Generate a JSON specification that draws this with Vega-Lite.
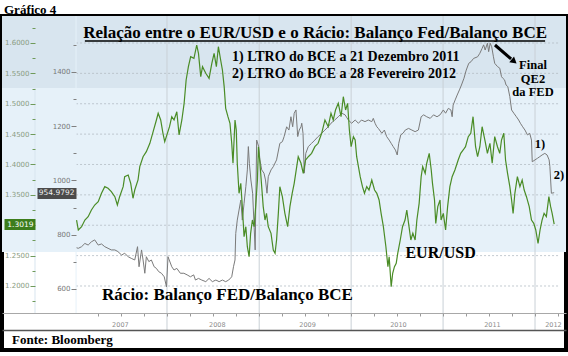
{
  "$schema": "https://vega.github.io/schema/vega-lite/v6.json",
  "width": 564,
  "height": 334,
  "autosize": {"type": "none"},
  "padding": {"left": 2, "top": 16, "right": 2, "bottom": 6},
  "background": "white",
  "config": {"view": {"stroke": "#000000", "strokeWidth": 4}},
  "title": {"text": "Gráfico 4", "anchor": "start", "frame": "group", "font": "Liberation Serif", "fontSize": 13, "fontWeight": "bold", "color": "#000000", "offset": 3, "dx": 2, "dy": 4},
  "datasets": {
    "eur": [
      {"date":"2007-01-07","eurusd":1.3086},{"date":"2007-01-14","eurusd":1.2922},{"date":"2007-01-27","eurusd":1.2976},{"date":"2007-02-09","eurusd":1.3086},{"date":"2007-02-22","eurusd":1.3141},{"date":"2007-03-07","eurusd":1.3251},{"date":"2007-03-20","eurusd":1.3333},{"date":"2007-04-03","eurusd":1.3388},{"date":"2007-04-16","eurusd":1.3526},{"date":"2007-04-29","eurusd":1.3635},{"date":"2007-05-12","eurusd":1.3608},{"date":"2007-05-25","eurusd":1.3553},{"date":"2007-06-08","eurusd":1.3470},{"date":"2007-06-18","eurusd":1.3333},{"date":"2007-06-27","eurusd":1.3470},{"date":"2007-07-11","eurusd":1.3635},{"date":"2007-07-17","eurusd":1.3799},{"date":"2007-07-31","eurusd":1.3827},{"date":"2007-08-10","eurusd":1.3690},{"date":"2007-08-19","eurusd":1.3444},{"date":"2007-08-26","eurusd":1.3580},{"date":"2007-09-08","eurusd":1.3745},{"date":"2007-09-15","eurusd":1.3964},{"date":"2007-09-28","eurusd":1.4128},{"date":"2007-10-11","eurusd":1.4211},{"date":"2007-10-25","eurusd":1.4349},{"date":"2007-11-07","eurusd":1.4540},{"date":"2007-11-20","eurusd":1.4733},{"date":"2007-11-27","eurusd":1.4843},{"date":"2007-12-07","eurusd":1.4733},{"date":"2007-12-16","eurusd":1.4513},{"date":"2007-12-23","eurusd":1.4375},
      {"date":"2008-01-11","eurusd":1.4622},{"date":"2008-01-20","eurusd":1.4787},{"date":"2008-01-29","eurusd":1.4733},{"date":"2008-02-09","eurusd":1.4869},{"date":"2008-02-18","eurusd":1.4486},{"date":"2008-02-29","eurusd":1.4733},{"date":"2008-03-09","eurusd":1.5007},{"date":"2008-03-17","eurusd":1.5391},{"date":"2008-03-26","eurusd":1.5610},{"date":"2008-04-04","eurusd":1.5775},{"date":"2008-04-17","eurusd":1.5748},{"date":"2008-04-28","eurusd":1.5967},{"date":"2008-05-05","eurusd":1.5830},{"date":"2008-05-14","eurusd":1.5446},{"date":"2008-05-21","eurusd":1.5610},{"date":"2008-06-03","eurusd":1.5501},{"date":"2008-06-16","eurusd":1.5418},{"date":"2008-06-27","eurusd":1.5665},{"date":"2008-07-06","eurusd":1.5830},{"date":"2008-07-15","eurusd":1.5610},{"date":"2008-07-23","eurusd":1.5939},{"date":"2008-08-01","eurusd":1.5720},{"date":"2008-08-08","eurusd":1.5556},{"date":"2008-08-15","eurusd":1.5281},{"date":"2008-08-21","eurusd":1.4925},{"date":"2008-08-30","eurusd":1.4787},{"date":"2008-09-07","eurusd":1.4678},{"date":"2008-09-14","eurusd":1.4349},{"date":"2008-09-19","eurusd":1.4020},{"date":"2008-09-27","eurusd":1.4733},{"date":"2008-10-02","eurusd":1.4568},{"date":"2008-10-06","eurusd":1.4020},{"date":"2008-10-13","eurusd":1.3526},{"date":"2008-10-20","eurusd":1.3690},{"date":"2008-10-26","eurusd":1.3306},{"date":"2008-11-02","eurusd":1.2812},{"date":"2008-11-09","eurusd":1.2976},{"date":"2008-11-15","eurusd":1.2647},{"date":"2008-11-22","eurusd":1.2482},{"date":"2008-11-28","eurusd":1.2867},{"date":"2008-12-05","eurusd":1.3086},{"date":"2008-12-12","eurusd":1.2976},{"date":"2008-12-18","eurusd":1.3306},{"date":"2008-12-25","eurusd":1.3745},{"date":"2008-12-29","eurusd":1.4293},
      {"date":"2009-01-04","eurusd":1.4020},{"date":"2009-01-11","eurusd":1.3635},{"date":"2009-01-17","eurusd":1.3306},{"date":"2009-01-24","eurusd":1.3086},{"date":"2009-01-30","eurusd":1.3196},{"date":"2009-02-06","eurusd":1.2976},{"date":"2009-02-17","eurusd":1.2867},{"date":"2009-02-26","eurusd":1.2593},{"date":"2009-03-05","eurusd":1.2538},{"date":"2009-03-11","eurusd":1.2757},{"date":"2009-03-18","eurusd":1.3196},{"date":"2009-03-24","eurusd":1.3635},{"date":"2009-04-03","eurusd":1.3470},{"date":"2009-04-13","eurusd":1.3196},{"date":"2009-04-24","eurusd":1.2976},{"date":"2009-05-03","eurusd":1.3306},{"date":"2009-05-12","eurusd":1.3526},{"date":"2009-05-20","eurusd":1.3690},{"date":"2009-05-30","eurusd":1.3964},{"date":"2009-06-05","eurusd":1.4128},{"date":"2009-06-16","eurusd":1.4020},{"date":"2009-06-25","eurusd":1.3855},{"date":"2009-07-04","eurusd":1.4074},{"date":"2009-07-15","eurusd":1.4128},{"date":"2009-07-28","eurusd":1.4184},{"date":"2009-08-10","eurusd":1.4293},{"date":"2009-08-23","eurusd":1.4349},{"date":"2009-09-06","eurusd":1.4514},{"date":"2009-09-19","eurusd":1.4733},{"date":"2009-10-02","eurusd":1.4622},{"date":"2009-10-13","eurusd":1.4843},{"date":"2009-10-22","eurusd":1.4733},{"date":"2009-10-31","eurusd":1.4897},{"date":"2009-11-11","eurusd":1.5007},{"date":"2009-11-22","eurusd":1.4787},{"date":"2009-12-01","eurusd":1.5116},{"date":"2009-12-10","eurusd":1.4897},{"date":"2009-12-18","eurusd":1.5007},{"date":"2009-12-25","eurusd":1.4568},
      {"date":"2010-01-01","eurusd":1.4293},{"date":"2010-01-10","eurusd":1.4458},{"date":"2010-01-17","eurusd":1.4403},{"date":"2010-01-23","eurusd":1.4128},{"date":"2010-01-30","eurusd":1.3964},{"date":"2010-02-06","eurusd":1.3799},{"date":"2010-02-15","eurusd":1.3635},{"date":"2010-02-23","eurusd":1.3526},{"date":"2010-03-04","eurusd":1.3635},{"date":"2010-03-13","eurusd":1.3580},{"date":"2010-03-24","eurusd":1.3745},{"date":"2010-04-04","eurusd":1.3580},{"date":"2010-04-13","eurusd":1.3526},{"date":"2010-04-22","eurusd":1.3416},{"date":"2010-04-30","eurusd":1.3196},{"date":"2010-05-09","eurusd":1.2976},{"date":"2010-05-19","eurusd":1.2647},{"date":"2010-05-27","eurusd":1.2318},{"date":"2010-06-01","eurusd":1.2482},{"date":"2010-06-09","eurusd":1.1989},{"date":"2010-06-15","eurusd":1.2209},{"date":"2010-06-22","eurusd":1.2318},{"date":"2010-06-29","eurusd":1.2374},{"date":"2010-07-05","eurusd":1.2538},{"date":"2010-07-15","eurusd":1.2757},{"date":"2010-07-24","eurusd":1.2976},{"date":"2010-08-03","eurusd":1.3086},{"date":"2010-08-10","eurusd":1.3251},{"date":"2010-08-17","eurusd":1.3031},{"date":"2010-08-26","eurusd":1.2757},{"date":"2010-09-03","eurusd":1.2867},{"date":"2010-09-12","eurusd":1.2757},{"date":"2010-09-19","eurusd":1.3086},{"date":"2010-09-28","eurusd":1.3361},{"date":"2010-10-06","eurusd":1.3799},{"date":"2010-10-12","eurusd":1.3964},{"date":"2010-10-22","eurusd":1.3855},{"date":"2010-10-28","eurusd":1.4020},{"date":"2010-11-07","eurusd":1.4184},{"date":"2010-11-15","eurusd":1.3910},{"date":"2010-11-20","eurusd":1.3690},{"date":"2010-11-28","eurusd":1.3416},{"date":"2010-12-03","eurusd":1.3031},{"date":"2010-12-11","eurusd":1.3306},{"date":"2010-12-20","eurusd":1.3416},{"date":"2010-12-24","eurusd":1.3086},
      {"date":"2011-01-02","eurusd":1.3196},{"date":"2011-01-11","eurusd":1.2922},{"date":"2011-01-19","eurusd":1.3306},{"date":"2011-01-28","eurusd":1.3635},{"date":"2011-02-06","eurusd":1.3799},{"date":"2011-02-17","eurusd":1.3910},{"date":"2011-03-02","eurusd":1.4074},{"date":"2011-03-12","eurusd":1.4184},{"date":"2011-03-22","eurusd":1.4239},{"date":"2011-03-31","eurusd":1.4293},{"date":"2011-04-11","eurusd":1.4458},{"date":"2011-04-21","eurusd":1.4514},{"date":"2011-04-30","eurusd":1.4787},{"date":"2011-05-10","eurusd":1.4293},{"date":"2011-05-18","eurusd":1.4128},{"date":"2011-05-27","eurusd":1.4293},{"date":"2011-06-05","eurusd":1.4622},{"date":"2011-06-16","eurusd":1.4403},{"date":"2011-06-26","eurusd":1.4184},{"date":"2011-07-06","eurusd":1.4349},{"date":"2011-07-15","eurusd":1.4020},{"date":"2011-07-25","eurusd":1.4458},{"date":"2011-08-05","eurusd":1.4293},{"date":"2011-08-14","eurusd":1.4184},{"date":"2011-08-21","eurusd":1.4403},{"date":"2011-08-30","eurusd":1.4514},{"date":"2011-09-06","eurusd":1.4074},{"date":"2011-09-14","eurusd":1.3855},{"date":"2011-09-23","eurusd":1.3635},{"date":"2011-09-30","eurusd":1.3416},{"date":"2011-10-06","eurusd":1.3196},{"date":"2011-10-13","eurusd":1.3526},{"date":"2011-10-23","eurusd":1.3799},{"date":"2011-11-02","eurusd":1.3635},{"date":"2011-11-11","eurusd":1.3745},{"date":"2011-11-19","eurusd":1.3580},{"date":"2011-11-28","eurusd":1.3470},{"date":"2011-12-09","eurusd":1.3306},{"date":"2011-12-18","eurusd":1.3086},{"date":"2011-12-27","eurusd":1.3031},
      {"date":"2012-01-04","eurusd":1.2922},{"date":"2012-01-13","eurusd":1.2703},{"date":"2012-01-21","eurusd":1.2922},{"date":"2012-01-29","eurusd":1.3086},{"date":"2012-02-06","eurusd":1.3196},{"date":"2012-02-15","eurusd":1.3141},{"date":"2012-02-25","eurusd":1.3470},{"date":"2012-03-03","eurusd":1.3306},{"date":"2012-03-09","eurusd":1.3196},{"date":"2012-03-17","eurusd":1.3019}
    ],
    "racio": [
      {"date":"2007-01-07","racio":752},{"date":"2007-01-14","racio":750},{"date":"2007-01-27","racio":756},{"date":"2007-02-09","racio":768},{"date":"2007-02-22","racio":762},{"date":"2007-03-07","racio":774},{"date":"2007-03-20","racio":781},{"date":"2007-04-03","racio":762},{"date":"2007-04-16","racio":766},{"date":"2007-04-29","racio":756},{"date":"2007-05-12","racio":750},{"date":"2007-05-25","racio":744},{"date":"2007-06-08","racio":744},{"date":"2007-06-20","racio":738},{"date":"2007-07-05","racio":725},{"date":"2007-07-17","racio":732},{"date":"2007-07-31","racio":719},{"date":"2007-08-12","racio":713},{"date":"2007-08-26","racio":707},{"date":"2007-09-06","racio":756},{"date":"2007-09-12","racio":682},{"date":"2007-09-22","racio":744},{"date":"2007-09-28","racio":707},{"date":"2007-10-05","racio":658},{"date":"2007-10-11","racio":719},{"date":"2007-10-21","racio":701},{"date":"2007-10-31","racio":707},{"date":"2007-11-11","racio":682},{"date":"2007-11-20","racio":676},{"date":"2007-11-29","racio":664},{"date":"2007-12-10","racio":658},{"date":"2007-12-21","racio":645},{"date":"2007-12-30","racio":608},
      {"date":"2008-01-05","racio":719},{"date":"2008-01-20","racio":682},{"date":"2008-01-29","racio":670},{"date":"2008-02-09","racio":676},{"date":"2008-02-23","racio":658},{"date":"2008-03-08","racio":658},{"date":"2008-03-21","racio":652},{"date":"2008-04-03","racio":645},{"date":"2008-04-16","racio":652},{"date":"2008-04-23","racio":633},{"date":"2008-05-05","racio":639},{"date":"2008-05-18","racio":633},{"date":"2008-06-03","racio":627},{"date":"2008-06-16","racio":639},{"date":"2008-06-29","racio":627},{"date":"2008-07-13","racio":633},{"date":"2008-07-26","racio":627},{"date":"2008-08-08","racio":633},{"date":"2008-08-21","racio":627},{"date":"2008-09-02","racio":633},{"date":"2008-09-14","racio":645},{"date":"2008-09-21","racio":682},{"date":"2008-09-27","racio":707},{"date":"2008-09-30","racio":805},{"date":"2008-10-06","racio":854},{"date":"2008-10-13","racio":891},{"date":"2008-10-20","racio":928},{"date":"2008-10-26","racio":854},{"date":"2008-11-02","racio":916},{"date":"2008-11-09","racio":977},{"date":"2008-11-15","racio":1039},{"date":"2008-11-19","racio":1125},{"date":"2008-11-23","racio":1063},{"date":"2008-11-29","racio":1002},{"date":"2008-12-06","racio":953},{"date":"2008-12-16","racio":744},{"date":"2008-12-22","racio":1149},{"date":"2008-12-30","racio":1125},
      {"date":"2009-01-04","racio":1076},{"date":"2009-01-11","racio":1039},{"date":"2009-01-20","racio":1027},{"date":"2009-01-26","racio":1002},{"date":"2009-02-01","racio":953},{"date":"2009-02-06","racio":1014},{"date":"2009-02-17","racio":1039},{"date":"2009-02-26","racio":1051},{"date":"2009-03-11","racio":1076},{"date":"2009-03-24","racio":1137},{"date":"2009-04-03","racio":1143},{"date":"2009-04-10","racio":1162},{"date":"2009-04-20","racio":1198},{"date":"2009-04-29","racio":1186},{"date":"2009-05-07","racio":1235},{"date":"2009-05-14","racio":1198},{"date":"2009-05-20","racio":1248},{"date":"2009-05-27","racio":1260},{"date":"2009-06-03","racio":1162},{"date":"2009-06-09","racio":1186},{"date":"2009-06-16","racio":1198},{"date":"2009-06-19","racio":1211},{"date":"2009-06-24","racio":1174},{"date":"2009-06-29","racio":1027},{"date":"2009-07-05","racio":1100},{"date":"2009-07-15","racio":1125},{"date":"2009-07-28","racio":1137},{"date":"2009-08-10","racio":1149},{"date":"2009-08-23","racio":1162},{"date":"2009-09-06","racio":1174},{"date":"2009-09-19","racio":1186},{"date":"2009-10-02","racio":1198},{"date":"2009-10-13","racio":1211},{"date":"2009-10-28","racio":1223},{"date":"2009-11-11","racio":1235},{"date":"2009-11-25","racio":1248},{"date":"2009-12-08","racio":1242},{"date":"2009-12-21","racio":1223},
      {"date":"2010-01-03","racio":1211},{"date":"2010-01-17","racio":1223},{"date":"2010-01-30","racio":1211},{"date":"2010-02-11","racio":1223},{"date":"2010-02-25","racio":1217},{"date":"2010-03-10","racio":1223},{"date":"2010-03-24","racio":1217},{"date":"2010-03-30","racio":1229},{"date":"2010-04-06","racio":1211},{"date":"2010-04-13","racio":1198},{"date":"2010-04-19","racio":1192},{"date":"2010-05-03","racio":1174},{"date":"2010-05-13","racio":1186},{"date":"2010-05-22","racio":1162},{"date":"2010-06-01","racio":1149},{"date":"2010-06-09","racio":1137},{"date":"2010-06-17","racio":1125},{"date":"2010-06-26","racio":1112},{"date":"2010-07-03","racio":1094},{"date":"2010-07-09","racio":1137},{"date":"2010-07-17","racio":1168},{"date":"2010-07-26","racio":1174},{"date":"2010-08-04","racio":1186},{"date":"2010-08-17","racio":1192},{"date":"2010-08-30","racio":1186},{"date":"2010-09-12","racio":1180},{"date":"2010-09-25","racio":1186},{"date":"2010-10-06","racio":1235},{"date":"2010-10-16","racio":1242},{"date":"2010-10-28","racio":1235},{"date":"2010-11-11","racio":1229},{"date":"2010-11-24","racio":1242},{"date":"2010-12-08","racio":1235},{"date":"2010-12-20","racio":1242},
      {"date":"2011-01-02","racio":1260},{"date":"2011-01-11","racio":1248},{"date":"2011-01-22","racio":1266},{"date":"2011-02-01","racio":1260},{"date":"2011-02-06","racio":1235},{"date":"2011-02-10","racio":1278},{"date":"2011-02-18","racio":1297},{"date":"2011-02-26","racio":1315},{"date":"2011-03-07","racio":1334},{"date":"2011-03-15","racio":1352},{"date":"2011-03-25","racio":1377},{"date":"2011-04-03","racio":1407},{"date":"2011-04-13","racio":1432},{"date":"2011-04-22","racio":1438},{"date":"2011-05-02","racio":1450},{"date":"2011-05-18","racio":1456},{"date":"2011-05-27","racio":1469},{"date":"2011-06-05","racio":1487},{"date":"2011-06-11","racio":1500},{"date":"2011-06-17","racio":1481},{"date":"2011-06-26","racio":1506},{"date":"2011-07-01","racio":1475},{"date":"2011-07-07","racio":1506},{"date":"2011-07-13","racio":1493},{"date":"2011-07-20","racio":1456},{"date":"2011-07-25","racio":1432},{"date":"2011-08-05","racio":1420},{"date":"2011-08-14","racio":1414},{"date":"2011-08-21","racio":1383},{"date":"2011-08-26","racio":1377},{"date":"2011-09-02","racio":1371},{"date":"2011-09-08","racio":1352},{"date":"2011-09-15","racio":1346},{"date":"2011-09-23","racio":1309},{"date":"2011-09-30","racio":1260},{"date":"2011-10-09","racio":1248},{"date":"2011-10-19","racio":1235},{"date":"2011-10-28","racio":1223},{"date":"2011-11-04","racio":1211},{"date":"2011-11-13","racio":1198},{"date":"2011-11-22","racio":1186},{"date":"2011-12-02","racio":1168},{"date":"2011-12-11","racio":1174},{"date":"2011-12-18","racio":1149},{"date":"2011-12-21","racio":1069},
      {"date":"2012-01-01","racio":1076},{"date":"2012-01-11","racio":1082},{"date":"2012-01-20","racio":1088},{"date":"2012-01-29","racio":1094},{"date":"2012-02-09","racio":1100},{"date":"2012-02-18","racio":1094},{"date":"2012-02-26","racio":1076},{"date":"2012-02-29","racio":1051},{"date":"2012-03-06","racio":953},{"date":"2012-03-17","racio":954.9792}
    ]
  },
  "resolve": {"scale": {"y": "independent"}, "axis": {"x": "independent", "y": "independent"}},
  "layer": [
    {
      "data": {"values": [{"lo": 1.256, "hi": 1.5259, "band": "b"}, {"lo": 1.5259, "hi": 1.64444, "band": "a"}]},
      "mark": {"type": "rect"},
      "encoding": {
        "y": {"field": "lo", "type": "quantitative", "scale": {"domain": [1.09465, 1.64444]}, "axis": null},
        "y2": {"field": "hi"},
        "color": {"field": "band", "type": "nominal", "scale": {"domain": ["a", "b"], "range": ["#d8e5ef", "#e6f1f9"]}, "legend": null}
      }
    },
    {
      "data": {"values": [{"d": "2008-01-01"}, {"d": "2009-01-01"}, {"d": "2010-01-01"}, {"d": "2011-01-01"}, {"d": "2012-01-01"}]},
      "mark": {"type": "rule", "color": "#c9d0d6", "strokeWidth": 1},
      "encoding": {
        "x": {"field": "d", "type": "temporal", "scale": {"domain": [{"year": 2006, "month": 3, "date": 17, "utc": true}, {"year": 2012, "month": 5, "date": 3, "utc": true}]}, "axis": null},
        "y": {"datum": 1.64444, "type": "quantitative", "scale": {"domain": [1.09465, 1.64444]}, "axis": null},
        "y2": {"datum": 1.1276}
      }
    },
    {
      "data": {"values": [{"g": 1.2}, {"g": 1.25}, {"g": 1.3}, {"g": 1.35}, {"g": 1.4}, {"g": 1.45}, {"g": 1.5}, {"g": 1.55}, {"g": 1.6}]},
      "mark": {"type": "rule", "color": "#b4bcc4", "strokeWidth": 0.8, "strokeDash": [2, 2]},
      "encoding": {
        "y": {"field": "g", "type": "quantitative", "scale": {"domain": [1.09465, 1.64444]}, "axis": null},
        "x": {"datum": {"year": 2007, "month": 1, "date": 5, "utc": true}, "type": "temporal", "scale": {"domain": [{"year": 2006, "month": 3, "date": 17, "utc": true}, {"year": 2012, "month": 5, "date": 3, "utc": true}]}, "axis": null},
        "x2": {"datum": {"year": 2012, "month": 4, "date": 9, "utc": true}}
      }
    },
    {
      "data": {"values": [{"d": "2006-07-26", "axisline": "eur"}, {"d": "2007-01-05", "axisline": "rac"}]},
      "mark": {"type": "rule", "strokeWidth": 1},
      "encoding": {
        "x": {"field": "d", "type": "temporal", "scale": {"domain": [{"year": 2006, "month": 3, "date": 17, "utc": true}, {"year": 2012, "month": 5, "date": 3, "utc": true}]}, "axis": null},
        "y": {"datum": 1.1556, "type": "quantitative", "scale": {"domain": [1.09465, 1.64444]}, "axis": null},
        "y2": {"datum": 1.64444},
        "color": {"field": "axisline", "type": "nominal", "scale": {"domain": ["eur", "rac"], "range": ["#9fb596", "#9c9c9c"]}, "legend": null}
      }
    },
    {
      "data": {"name": "racio"},
      "mark": {"type": "line", "color": "#7a7a7a", "strokeWidth": 1},
      "encoding": {
        "x": {"field": "date", "type": "temporal", "scale": {"domain": [{"year": 2006, "month": 3, "date": 17, "utc": true}, {"year": 2012, "month": 5, "date": 3, "utc": true}]},
          "axis": {"orient": "bottom", "offset": -37, "zindex": 1, "title": null, "labels": false, "grid": false, "ticks": true, "tickSize": 3, "tickColor": "#9a9a9a", "domain": true, "domainColor": "#a8a8a8", "domainWidth": 1,
            "values": [{"year": 2007, "month": 4, "date": 1, "utc": true}, {"year": 2007, "month": 7, "date": 1, "utc": true}, {"year": 2007, "month": 10, "date": 1, "utc": true}, {"year": 2008, "month": 1, "date": 1, "utc": true}, {"year": 2008, "month": 4, "date": 1, "utc": true}, {"year": 2008, "month": 7, "date": 1, "utc": true}, {"year": 2008, "month": 10, "date": 1, "utc": true}, {"year": 2009, "month": 1, "date": 1, "utc": true}, {"year": 2009, "month": 4, "date": 1, "utc": true}, {"year": 2009, "month": 7, "date": 1, "utc": true}, {"year": 2009, "month": 10, "date": 1, "utc": true}, {"year": 2010, "month": 1, "date": 1, "utc": true}, {"year": 2010, "month": 4, "date": 1, "utc": true}, {"year": 2010, "month": 7, "date": 1, "utc": true}, {"year": 2010, "month": 10, "date": 1, "utc": true}, {"year": 2011, "month": 1, "date": 1, "utc": true}, {"year": 2011, "month": 4, "date": 1, "utc": true}, {"year": 2011, "month": 7, "date": 1, "utc": true}, {"year": 2011, "month": 10, "date": 1, "utc": true}, {"year": 2012, "month": 1, "date": 1, "utc": true}, {"year": 2012, "month": 4, "date": 1, "utc": true}]}},
        "y": {"field": "racio", "type": "quantitative", "scale": {"domain": [375.1, 1606.4]},
          "axis": {"orient": "left", "offset": -74, "zindex": 1, "title": null, "grid": false, "domain": false, "values": [600, 700, 800, 900, 1000, 1100, 1200, 1300, 1400, 1500], "format": "d",
            "labelExpr": "datum.value % 200 == 0 ? datum.label : ''",
            "tickSize": {"condition": {"test": "datum.value % 200 == 0", "value": 5}, "value": 3},
            "tickColor": "#808080", "labelFont": "DejaVu Sans", "labelFontSize": 7, "labelColor": "#777777", "labelPadding": 1, "labelOverlap": false}}
      }
    },
    {
      "data": {"name": "eur"},
      "mark": {"type": "line", "color": "#4a8c26", "strokeWidth": 1.2},
      "encoding": {
        "x": {"field": "date", "type": "temporal", "scale": {"domain": [{"year": 2006, "month": 3, "date": 17, "utc": true}, {"year": 2012, "month": 5, "date": 3, "utc": true}]},
          "axis": {"orient": "top", "offset": -314, "zindex": 1, "title": null, "grid": false, "ticks": false, "tickSize": 0, "labelPadding": 3, "format": "%Y", "labelFont": "DejaVu Sans", "labelFontSize": 6.5, "labelColor": "#8c8c8c", "labelFlush": false, "labelOverlap": false, "domain": true, "domainColor": "#555555", "domainWidth": 1.5,
            "values": [{"year": 2007, "month": 6, "date": 28, "utc": true}, {"year": 2008, "month": 7, "date": 17, "utc": true}, {"year": 2009, "month": 7, "date": 10, "utc": true}, {"year": 2010, "month": 7, "date": 6, "utc": true}, {"year": 2011, "month": 7, "date": 14, "utc": true}, {"year": 2012, "month": 3, "date": 12, "utc": true}]}},
        "y": {"field": "eurusd", "type": "quantitative", "scale": {"domain": [1.09465, 1.64444]},
          "axis": {"orient": "left", "offset": -33, "zindex": 1, "title": null, "grid": false, "domain": false,
            "values": [1.175, 1.2, 1.225, 1.25, 1.275, 1.3, 1.325, 1.35, 1.375, 1.4, 1.425, 1.45, 1.475, 1.5, 1.525, 1.55, 1.575, 1.6, 1.625],
            "labelExpr": "round(datum.value * 1000) % 50 == 0 && round(datum.value * 1000) != 1300 ? format(datum.value, '.4f') : ''",
            "tickSize": {"condition": {"test": "round(datum.value * 1000) % 50 == 0", "value": 5}, "value": 3},
            "tickColor": "#6f9a5a", "labelFont": "DejaVu Sans", "labelFontSize": 7, "labelColor": "#8a9c82", "labelPadding": 1, "labelOverlap": false}}
      }
    },
    {
      "data": {"values": [{"d": "2009-08-11", "v": 1.6165, "t": "Relação entre o EUR/USD e o Rácio: Balanço Fed/Balanço BCE"}]},
      "mark": {"type": "text", "font": "Liberation Serif", "fontSize": 17, "fontWeight": "bold", "align": "center", "baseline": "middle", "color": "#000000"},
      "encoding": {
        "x": {"field": "d", "type": "temporal", "scale": {"domain": [{"year": 2006, "month": 3, "date": 17, "utc": true}, {"year": 2012, "month": 5, "date": 3, "utc": true}]}, "axis": null},
        "y": {"field": "v", "type": "quantitative", "scale": {"domain": [1.09465, 1.64444]}, "axis": null},
        "text": {"field": "t"}
      }
    },
    {
      "data": {"values": [{"x0": "2007-02-09", "x1": "2012-02-10", "v": 1.6033}]},
      "mark": {"type": "rule", "color": "#000000", "strokeWidth": 1.3},
      "encoding": {
        "x": {"field": "x0", "type": "temporal", "scale": {"domain": [{"year": 2006, "month": 3, "date": 17, "utc": true}, {"year": 2012, "month": 5, "date": 3, "utc": true}]}, "axis": null},
        "x2": {"field": "x1"},
        "y": {"field": "v", "type": "quantitative", "scale": {"domain": [1.09465, 1.64444]}, "axis": null}
      }
    },
    {
      "data": {"values": [{"d": "2008-09-15", "v": 1.577, "t": "1) LTRO do BCE a 21 Dezembro 2011"}, {"d": "2008-09-15", "v": 1.549, "t": "2) LTRO do BCE a 28 Fevereiro 2012"}]},
      "mark": {"type": "text", "font": "Liberation Serif", "fontSize": 14, "fontWeight": "bold", "align": "left", "baseline": "middle", "color": "#000000"},
      "encoding": {
        "x": {"field": "d", "type": "temporal", "scale": {"domain": [{"year": 2006, "month": 3, "date": 17, "utc": true}, {"year": 2012, "month": 5, "date": 3, "utc": true}]}, "axis": null},
        "y": {"field": "v", "type": "quantitative", "scale": {"domain": [1.09465, 1.64444]}, "axis": null},
        "text": {"field": "t"}
      }
    },
    {
      "data": {"values": [{"d": "2011-12-24", "r": 1424, "t": "Final\nQE2\nda FED"}, {"d": "2012-01-21", "r": 1135, "t": "1)"}, {"d": "2012-04-05", "r": 1020, "t": "2)"}]},
      "mark": {"type": "text", "font": "Liberation Serif", "fontSize": 12.5, "fontWeight": "bold", "align": "center", "baseline": "middle", "color": "#000000", "lineBreak": "\n", "lineHeight": 13.5},
      "encoding": {
        "x": {"field": "d", "type": "temporal", "scale": {"domain": [{"year": 2006, "month": 3, "date": 17, "utc": true}, {"year": 2012, "month": 5, "date": 3, "utc": true}]}, "axis": null},
        "y": {"field": "r", "type": "quantitative", "scale": {"domain": [375.1, 1606.4]},
          "axis": {"orient": "left", "offset": -74, "zindex": 2, "title": null, "grid": false, "domain": false, "values": [954.9792], "format": ".4f", "tickSize": 39, "tickWidth": 11, "tickColor": "#4b4b4b", "labelPadding": -37, "labelColor": "#eeeeee", "labelFont": "DejaVu Sans", "labelFontSize": 7.5, "labelOverlap": false}},
        "text": {"field": "t"}
      }
    },
    {
      "data": {"values": [{"d": "2010-12-22", "v": 1.2543, "t": "EUR/USD"}]},
      "mark": {"type": "text", "font": "Liberation Serif", "fontSize": 16, "fontWeight": "bold", "align": "center", "baseline": "middle", "color": "#000000"},
      "encoding": {
        "x": {"field": "d", "type": "temporal", "scale": {"domain": [{"year": 2006, "month": 3, "date": 17, "utc": true}, {"year": 2012, "month": 5, "date": 3, "utc": true}]}, "axis": null},
        "y": {"field": "v", "type": "quantitative", "scale": {"domain": [1.09465, 1.64444]},
          "axis": {"orient": "left", "offset": -33, "zindex": 2, "title": null, "grid": false, "domain": false, "values": [1.3019], "format": ".4f", "tickSize": 31, "tickWidth": 11, "tickColor": "#3c7d1b", "labelPadding": -29, "labelColor": "#ffffff", "labelFont": "DejaVu Sans", "labelFontSize": 7.5, "labelOverlap": false}},
        "text": {"field": "t"}
      }
    },
    {
      "data": {"values": [{"d": "2008-08-28", "v": 1.1852, "t": "Rácio: Balanço FED/Balanço BCE"}]},
      "mark": {"type": "text", "font": "Liberation Serif", "fontSize": 17, "fontWeight": "bold", "align": "center", "baseline": "middle", "color": "#000000"},
      "encoding": {
        "x": {"field": "d", "type": "temporal", "scale": {"domain": [{"year": 2006, "month": 3, "date": 17, "utc": true}, {"year": 2012, "month": 5, "date": 3, "utc": true}]}, "axis": null},
        "y": {"field": "v", "type": "quantitative", "scale": {"domain": [1.09465, 1.64444]}, "axis": null},
        "text": {"field": "t"}
      }
    },
    {
      "data": {"values": [{"d": "2006-04-26", "v": 1.1111, "t": "Fonte: Bloomberg"}]},
      "mark": {"type": "text", "font": "Liberation Serif", "fontSize": 13, "fontWeight": "bold", "align": "left", "baseline": "middle", "color": "#000000"},
      "encoding": {
        "x": {"field": "d", "type": "temporal", "scale": {"domain": [{"year": 2006, "month": 3, "date": 17, "utc": true}, {"year": 2012, "month": 5, "date": 3, "utc": true}]}, "axis": null},
        "y": {"field": "v", "type": "quantitative", "scale": {"domain": [1.09465, 1.64444]}, "axis": null},
        "text": {"field": "t"}
      }
    },
    {
      "data": {"values": [{"x0": "2011-07-26", "x1": "2011-09-28", "v0": 1.5967, "v1": 1.5737}]},
      "mark": {"type": "rule", "color": "#000000", "strokeWidth": 3},
      "encoding": {
        "x": {"field": "x0", "type": "temporal", "scale": {"domain": [{"year": 2006, "month": 3, "date": 17, "utc": true}, {"year": 2012, "month": 5, "date": 3, "utc": true}]}, "axis": null},
        "x2": {"field": "x1"},
        "y": {"field": "v0", "type": "quantitative", "scale": {"domain": [1.09465, 1.64444]}, "axis": null},
        "y2": {"field": "v1"}
      }
    },
    {
      "data": {"values": [{"x0": "2011-10-10", "v0": 1.5695}]},
      "mark": {"type": "point", "shape": "triangle-up", "filled": true, "color": "#000000", "size": 55, "angle": 130, "opacity": 1},
      "encoding": {
        "x": {"field": "x0", "type": "temporal", "scale": {"domain": [{"year": 2006, "month": 3, "date": 17, "utc": true}, {"year": 2012, "month": 5, "date": 3, "utc": true}]}, "axis": null},
        "y": {"field": "v0", "type": "quantitative", "scale": {"domain": [1.09465, 1.64444]}, "axis": null}
      }
    }
  ]
}
